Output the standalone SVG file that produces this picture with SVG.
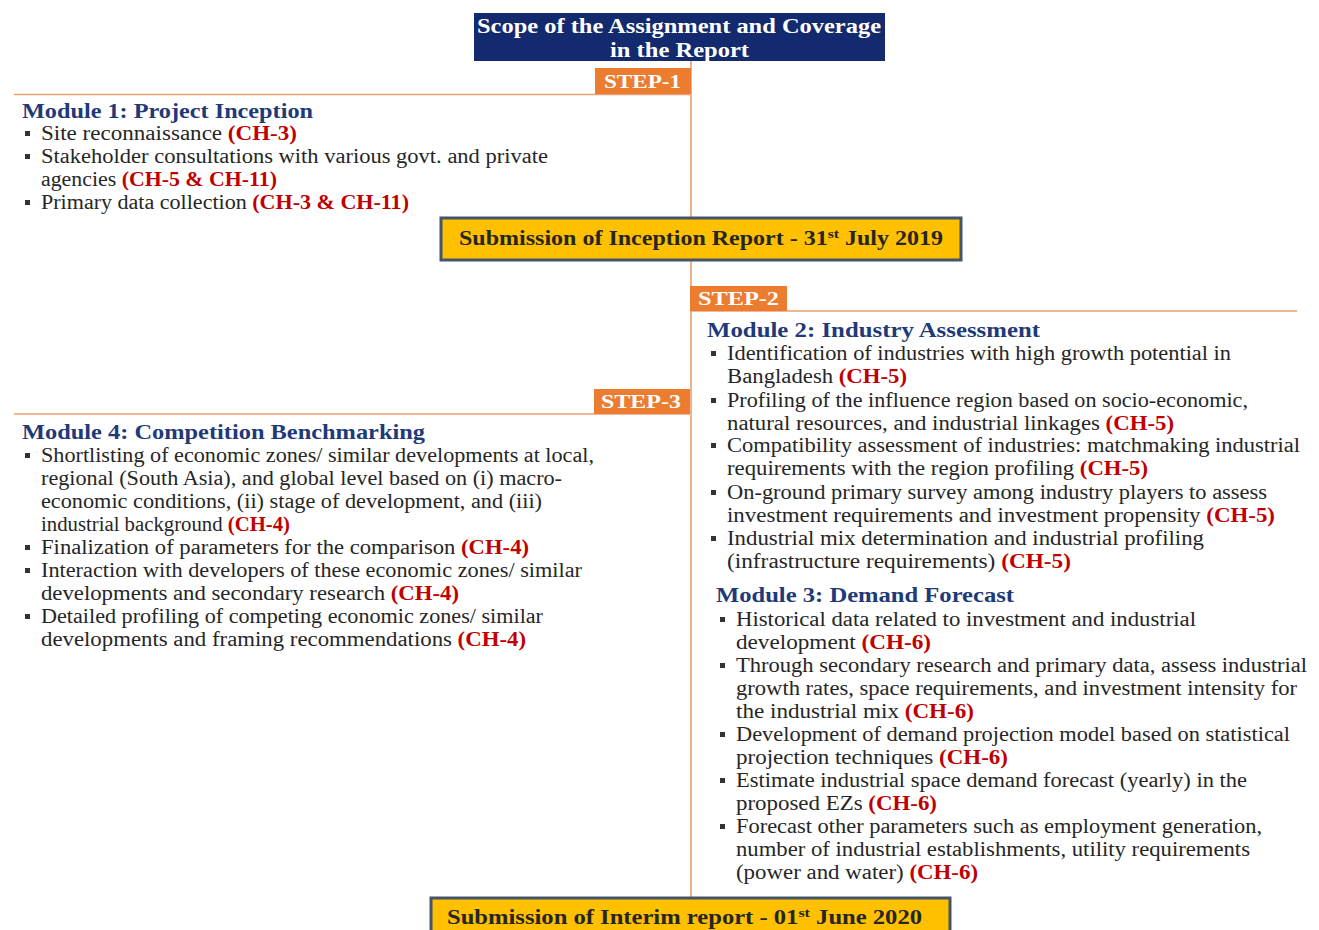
<svg xmlns="http://www.w3.org/2000/svg" width="1319" height="930" viewBox="0 0 1319 930">
<style>
text{font-family:"Liberation Serif","DejaVu Serif",serif;}
.b{font-size:20px;fill:#262626;}
.h{font-size:21px;font-weight:bold;fill:#1f3a78;}
.ch{font-weight:bold;fill:#c00000;}
.step{font-size:19px;font-weight:bold;fill:#ffffff;}
.stepbox{fill:#ec7c30;}
.gold{fill:#ffc000;stroke:#44546a;stroke-width:3;}
.gt{font-size:20px;font-weight:bold;fill:#262626;}
.tt{font-size:21px;font-weight:bold;fill:#ffffff;}
.bl{fill:#333333;}
.conn{stroke:#e9a074;stroke-width:1.6;fill:none;}
</style>
<defs>
<rect id="bul" width="5" height="5" class="bl"/>
</defs>
<rect width="1319" height="930" fill="#ffffff"/>
<g id="connectors">
<line class="conn" x1="691" y1="57" x2="691" y2="897"/>
<line class="conn" x1="14" y1="94.5" x2="691" y2="94.5"/>
<line class="conn" x1="690" y1="311" x2="1297" y2="311"/>
<line class="conn" x1="14" y1="414" x2="690" y2="414"/>
</g>
<g id="title">
<rect x="474" y="13" width="411" height="48" fill="#142a6e"/>
<text class="tt" x="477" y="33" textLength="404" lengthAdjust="spacingAndGlyphs">Scope of the Assignment and Coverage</text>
<text class="tt" x="610" y="57" textLength="139" lengthAdjust="spacingAndGlyphs">in the Report</text>
</g>
<g id="step1">
<rect class="stepbox" x="595" y="68" width="96" height="26"/>
<text class="step" x="604" y="88" textLength="77" lengthAdjust="spacingAndGlyphs">STEP-1</text>
</g>
<g id="module1">
<text class="h" x="22" y="118" textLength="291" lengthAdjust="spacingAndGlyphs">Module 1: Project Inception</text>
<use href="#bul" x="25" y="131"/>
<text class="b" x="41" y="140" textLength="256" lengthAdjust="spacingAndGlyphs">Site reconnaissance <tspan class="ch">(CH-3)</tspan></text>
<use href="#bul" x="25" y="154"/>
<text class="b" x="41" y="163" textLength="507" lengthAdjust="spacingAndGlyphs">Stakeholder consultations with various govt. and private</text>
<text class="b" x="41" y="186" textLength="236" lengthAdjust="spacingAndGlyphs">agencies <tspan class="ch">(CH-5 &amp; CH-11)</tspan></text>
<use href="#bul" x="25" y="200"/>
<text class="b" x="41" y="209" textLength="368" lengthAdjust="spacingAndGlyphs">Primary data collection <tspan class="ch">(CH-3 &amp; CH-11)</tspan></text>
</g>
<g id="inception">
<rect class="gold" x="441" y="218" width="520" height="42"/>
<text class="gt" x="459" y="245" textLength="484" lengthAdjust="spacingAndGlyphs">Submission of Inception Report - 31<tspan font-size="13" dy="-7">st</tspan><tspan dy="7"> July 2019</tspan></text>
</g>
<g id="step2">
<rect class="stepbox" x="690" y="286" width="97" height="25"/>
<text class="step" x="698" y="305" textLength="81" lengthAdjust="spacingAndGlyphs">STEP-2</text>
</g>
<g id="module2">
<text class="h" x="707" y="337" textLength="333" lengthAdjust="spacingAndGlyphs">Module 2: Industry Assessment</text>
<use href="#bul" x="711" y="351"/>
<text class="b" x="727" y="360" textLength="504" lengthAdjust="spacingAndGlyphs">Identification of industries with high growth potential in</text>
<text class="b" x="727" y="383" textLength="180" lengthAdjust="spacingAndGlyphs">Bangladesh <tspan class="ch">(CH-5)</tspan></text>
<use href="#bul" x="711" y="398"/>
<text class="b" x="727" y="407" textLength="521" lengthAdjust="spacingAndGlyphs">Profiling of the influence region based on socio-economic,</text>
<text class="b" x="727" y="430" textLength="447" lengthAdjust="spacingAndGlyphs">natural resources, and industrial linkages <tspan class="ch">(CH-5)</tspan></text>
<use href="#bul" x="711" y="443"/>
<text class="b" x="727" y="452" textLength="573" lengthAdjust="spacingAndGlyphs">Compatibility assessment of industries: matchmaking industrial</text>
<text class="b" x="727" y="475" textLength="421" lengthAdjust="spacingAndGlyphs">requirements with the region profiling <tspan class="ch">(CH-5)</tspan></text>
<use href="#bul" x="711" y="490"/>
<text class="b" x="727" y="499" textLength="540" lengthAdjust="spacingAndGlyphs">On-ground primary survey among industry players to assess</text>
<text class="b" x="727" y="522" textLength="548" lengthAdjust="spacingAndGlyphs">investment requirements and investment propensity <tspan class="ch">(CH-5)</tspan></text>
<use href="#bul" x="711" y="536"/>
<text class="b" x="727" y="545" textLength="477" lengthAdjust="spacingAndGlyphs">Industrial mix determination and industrial profiling</text>
<text class="b" x="727" y="568" textLength="344" lengthAdjust="spacingAndGlyphs">(infrastructure requirements) <tspan class="ch">(CH-5)</tspan></text>
</g>
<g id="step3">
<rect class="stepbox" x="594" y="389" width="96" height="25"/>
<text class="step" x="601" y="408" textLength="80" lengthAdjust="spacingAndGlyphs">STEP-3</text>
</g>
<g id="module4">
<text class="h" x="22" y="439" textLength="403" lengthAdjust="spacingAndGlyphs">Module 4: Competition Benchmarking</text>
<use href="#bul" x="25" y="453"/>
<text class="b" x="41" y="462" textLength="553" lengthAdjust="spacingAndGlyphs">Shortlisting of economic zones/ similar developments at local,</text>
<text class="b" x="41" y="485" textLength="521" lengthAdjust="spacingAndGlyphs">regional (South Asia), and global level based on (i) macro-</text>
<text class="b" x="41" y="508" textLength="501" lengthAdjust="spacingAndGlyphs">economic conditions, (ii) stage of development, and (iii)</text>
<text class="b" x="41" y="531" textLength="249" lengthAdjust="spacingAndGlyphs">industrial background <tspan class="ch">(CH-4)</tspan></text>
<use href="#bul" x="25" y="545"/>
<text class="b" x="41" y="554" textLength="488" lengthAdjust="spacingAndGlyphs">Finalization of parameters for the comparison <tspan class="ch">(CH-4)</tspan></text>
<use href="#bul" x="25" y="568"/>
<text class="b" x="41" y="577" textLength="541" lengthAdjust="spacingAndGlyphs">Interaction with developers of these economic zones/ similar</text>
<text class="b" x="41" y="600" textLength="418" lengthAdjust="spacingAndGlyphs">developments and secondary research <tspan class="ch">(CH-4)</tspan></text>
<use href="#bul" x="25" y="614"/>
<text class="b" x="41" y="623" textLength="502" lengthAdjust="spacingAndGlyphs">Detailed profiling of competing economic zones/ similar</text>
<text class="b" x="41" y="646" textLength="485" lengthAdjust="spacingAndGlyphs">developments and framing recommendations <tspan class="ch">(CH-4)</tspan></text>
</g>
<g id="module3">
<text class="h" x="716" y="602" textLength="298" lengthAdjust="spacingAndGlyphs">Module 3: Demand Forecast</text>
<use href="#bul" x="720" y="617"/>
<text class="b" x="736" y="626" textLength="460" lengthAdjust="spacingAndGlyphs">Historical data related to investment and industrial</text>
<text class="b" x="736" y="649" textLength="195" lengthAdjust="spacingAndGlyphs">development <tspan class="ch">(CH-6)</tspan></text>
<use href="#bul" x="720" y="663"/>
<text class="b" x="736" y="672" textLength="571" lengthAdjust="spacingAndGlyphs">Through secondary research and primary data, assess industrial</text>
<text class="b" x="736" y="695" textLength="561" lengthAdjust="spacingAndGlyphs">growth rates, space requirements, and investment intensity for</text>
<text class="b" x="736" y="718" textLength="238" lengthAdjust="spacingAndGlyphs">the industrial mix <tspan class="ch">(CH-6)</tspan></text>
<use href="#bul" x="720" y="732"/>
<text class="b" x="736" y="741" textLength="554" lengthAdjust="spacingAndGlyphs">Development of demand projection model based on statistical</text>
<text class="b" x="736" y="764" textLength="272" lengthAdjust="spacingAndGlyphs">projection techniques <tspan class="ch">(CH-6)</tspan></text>
<use href="#bul" x="720" y="778"/>
<text class="b" x="736" y="787" textLength="511" lengthAdjust="spacingAndGlyphs">Estimate industrial space demand forecast (yearly) in the</text>
<text class="b" x="736" y="810" textLength="201" lengthAdjust="spacingAndGlyphs">proposed EZs <tspan class="ch">(CH-6)</tspan></text>
<use href="#bul" x="720" y="824"/>
<text class="b" x="736" y="833" textLength="526" lengthAdjust="spacingAndGlyphs">Forecast other parameters such as employment generation,</text>
<text class="b" x="736" y="856" textLength="514" lengthAdjust="spacingAndGlyphs">number of industrial establishments, utility requirements</text>
<text class="b" x="736" y="879" textLength="242" lengthAdjust="spacingAndGlyphs">(power and water) <tspan class="ch">(CH-6)</tspan></text>
</g>
<g id="interim">
<rect class="gold" x="431" y="898" width="519" height="40"/>
<text class="gt" x="447" y="924" textLength="475" lengthAdjust="spacingAndGlyphs">Submission of Interim report - 01<tspan font-size="13" dy="-7">st</tspan><tspan dy="7"> June 2020</tspan></text>
</g>
</svg>
